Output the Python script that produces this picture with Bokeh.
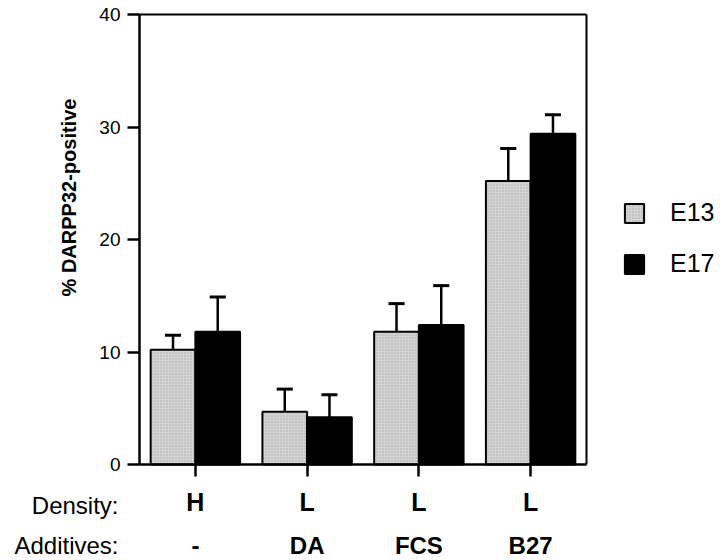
import numpy as np
from bokeh.plotting import figure
from bokeh.models import (Range1d, FixedTicker, Label, LinearAxis, Legend, LegendItem)
from bokeh.core.properties import value
from bokeh.embed import file_html
from bokeh.resources import INLINE

# ---- data ----
density = ["H", "L", "L", "L"]
additives = ["-", "DA", "FCS", "B27"]
row_headers = ["Density:", "Additives:"]
e13 = [10.2, 4.7, 11.8, 25.2]
e13_err = [1.3, 2.0, 2.5, 2.9]
e17 = [11.8, 4.2, 12.4, 29.4]
e17_err = [3.1, 2.0, 3.5, 1.7]
yticks = [0, 10, 20, 30, 40]
series = ["E13", "E17"]
y_label = "% DARPP32-positive"

FONT = "Liberation Sans"
W, H = 720, 560

# layout (pixels): plot box from (139,14) to (586,464)
BOX_L, BOX_R, BOX_T, BOX_B = 139, 586, 14, 464
XMIN, XMAX, YMIN, YMAX = -0.5, 3.5, 0, 40
ppx = (BOX_R - BOX_L) / (XMAX - XMIN)
ppy = (BOX_B - BOX_T) / (YMAX - YMIN)

x_range = Range1d(XMIN - BOX_L / ppx, XMAX + (W - BOX_R) / ppx)
y_range = Range1d(YMIN - (H - BOX_B) / ppy, YMAX + BOX_T / ppy)

def xd(px):  # pixel -> data
    return XMIN + (px - BOX_L) / ppx

def yd(py):
    return YMIN - (py - BOX_B) / ppy

p = figure(width=W, height=H, output_backend="svg", toolbar_location=None,
           x_range=x_range, y_range=y_range, x_axis_type=None, y_axis_type=None,
           min_border_left=0, min_border_right=0, min_border_top=0, min_border_bottom=0)
p.background_fill_color = "white"
p.border_fill_color = "white"
p.outline_line_color = None
p.grid.visible = False

xs = np.arange(len(density), dtype=float)
bw = 0.4
x13 = xs - bw / 2
x17 = xs + bw / 2

r13 = p.vbar(x=x13, top=e13, bottom=0, width=bw, fill_color="#d4d4d4",
             hatch_pattern="dot", hatch_color="#8a8a8a", hatch_scale=3,
             hatch_weight=1, hatch_alpha=0.6,
             line_color="black", line_width=2)
r17 = p.vbar(x=x17, top=e17, bottom=0, width=bw, fill_color="black",
             line_color="black", line_width=2)

# error bars (upper only, T shape)
cap = 0.072
for xx, v, e in ((x13, e13, e13_err), (x17, e17, e17_err)):
    v = np.array(v); e = np.array(e)
    p.segment(x0=xx, y0=v, x1=xx, y1=v + e, line_color="black", line_width=2.5)
    p.segment(x0=xx - cap, y0=v + e, x1=xx + cap, y1=v + e,
              line_color="black", line_width=3)

# y axis
yax = LinearAxis(fixed_location=XMIN, bounds=(YMIN, YMAX),
                 ticker=FixedTicker(ticks=yticks))
yax.minor_tick_line_color = None
yax.major_tick_out = 12
yax.major_tick_in = 0
yax.major_tick_line_width = 2.5
yax.axis_line_width = 2.5
yax.major_label_text_font = FONT
yax.major_label_text_font_size = "19px"
yax.major_label_text_color = "black"
yax.major_label_standoff = 7
p.add_layout(yax, "left")

# x axis (Density row as tick labels)
xax = LinearAxis(fixed_location=YMIN, bounds=(XMIN, XMAX),
                 ticker=FixedTicker(ticks=list(xs)),
                 major_label_overrides={float(i): d for i, d in enumerate(density)})
xax.minor_tick_line_color = None
xax.major_tick_out = 12
xax.major_tick_in = 0
xax.major_tick_line_width = 2.5
xax.axis_line_width = 2.5
xax.major_label_text_font = FONT
xax.major_label_text_font_style = "bold"
xax.major_label_text_font_size = "25px"
xax.major_label_text_color = "black"
xax.major_label_standoff = 11
p.add_layout(xax, "below")

# top and right sides of the box
top = LinearAxis(fixed_location=YMAX, bounds=(XMIN, XMAX), ticker=FixedTicker(ticks=[]))
top.axis_line_width = 2
top.minor_tick_line_color = None
top.major_tick_line_color = None
p.add_layout(top, "above")
right = LinearAxis(fixed_location=XMAX, bounds=(YMIN, YMAX), ticker=FixedTicker(ticks=[]))
right.axis_line_width = 2
right.minor_tick_line_color = None
right.major_tick_line_color = None
p.add_layout(right, "right")

# y-axis title
p.add_layout(Label(x=xd(68), y=yd(197), text=y_label,
                   angle=np.pi / 2, text_align="center", text_baseline="middle",
                   text_font=FONT, text_font_style="bold", text_font_size="20px",
                   text_color="black"))

# Additives row and row headers (vertical centres of the rows, pixels)
row1_y = yd(505)
row2_y = yd(545)
p.text(x=list(xs), y=[row2_y] * len(xs), text=additives, text_align="center",
       text_baseline="middle", text_font=value(FONT), text_font_style="bold",
       text_font_size="24px", text_color="black")
p.text(x=[xd(118)] * 2, y=[row1_y, row2_y], text=row_headers, text_align="right",
       text_baseline="middle", text_font=value(FONT),
       text_font_size="24px", text_color="black")

# legend
legend = Legend(items=[LegendItem(label=series[0], renderers=[r13]),
                       LegendItem(label=series[1], renderers=[r17])],
                location=(622, H - 278), orientation="vertical",
                glyph_width=24, glyph_height=24, label_height=24,
                spacing=22, padding=0, margin=0, label_standoff=24,
                label_text_font=FONT, label_text_font_size="25px",
                label_text_color="black", label_text_baseline="middle",
                border_line_color=None, background_fill_alpha=0)
p.add_layout(legend, "center")

open("out.html", "w").write(file_html(p, INLINE))
